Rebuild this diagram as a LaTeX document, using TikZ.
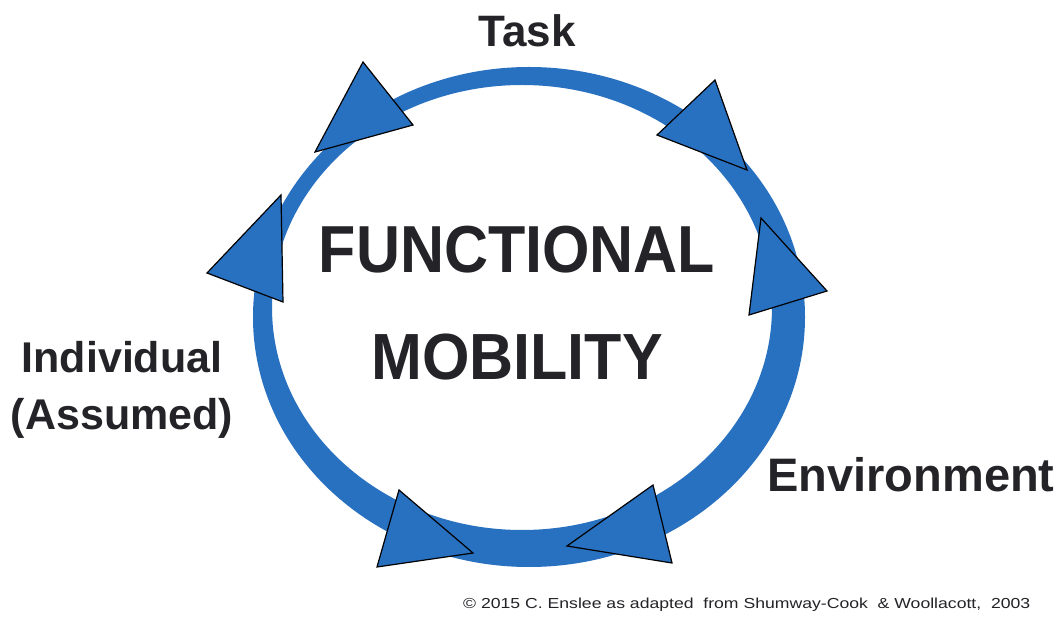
\documentclass[tikz,border=0pt]{standalone}
\usepackage{fontspec}
\setmainfont{Liberation Sans}
\usepackage{graphicx}
\definecolor{ringblue}{RGB}{40,112,192}
\definecolor{txt}{RGB}{35,35,40}
\begin{document}
\begin{tikzpicture}[x=1pt,y=-1pt,
  arrowtri/.style={fill=ringblue, draw=black, line width=1.2pt, line join=miter},
  lbl/.style={inner sep=0pt, text=txt, anchor=base},
  big/.style={lbl, font=\bfseries\fontsize{61}{61}\selectfont},
  side/.style={lbl, font=\bfseries\fontsize{#1}{#1}\selectfont}]
\useasboundingbox[fill=white] (0,0) rectangle (1061,617);
% ring
\fill[ringblue, even odd rule]
  (529,317) ellipse [x radius=276pt, y radius=250pt]
  (522,307.5) ellipse [x radius=250pt, y radius=222.5pt];
% arrowheads
\draw[arrowtri] (363,62) -- (315,152) -- (413,125) -- cycle;
\draw[arrowtri] (715,80) -- (657,135) -- (747,170) -- cycle;
\draw[arrowtri] (281,195) -- (207,273) -- (283,302) -- cycle;
\draw[arrowtri] (761,218) -- (749,315) -- (827,291) -- cycle;
\draw[arrowtri] (399,490) -- (377,567) -- (473,553) -- cycle;
\draw[arrowtri] (653,485) -- (567,546) -- (672,563) -- cycle;
% texts
\node[big] (func) at (517,273) {\scalebox{1}[1.09]{FUNCTIONAL}};
\node[big] (mob) at (517,380) {\scalebox{1}[1.07]{MOBILITY}};
\node[side=44] (task) at (527,47) {Task};
\node[side=43] (ind1) at (122,373) {Individual};
\node[side=43] (ind2) at (122,430) {(Assumed)};
\node[side=47] (env) at (911,492) {Environment};
\node[inner sep=0pt, anchor=base west, text=txt] (copy) at (463,608)
  {\resizebox{567pt}{10.5pt}{© 2015 C. Enslee as adapted\ \ from Shumway-Cook\ \ \& Woollacott,\ \ 2003}};
\end{tikzpicture}
\end{document}
